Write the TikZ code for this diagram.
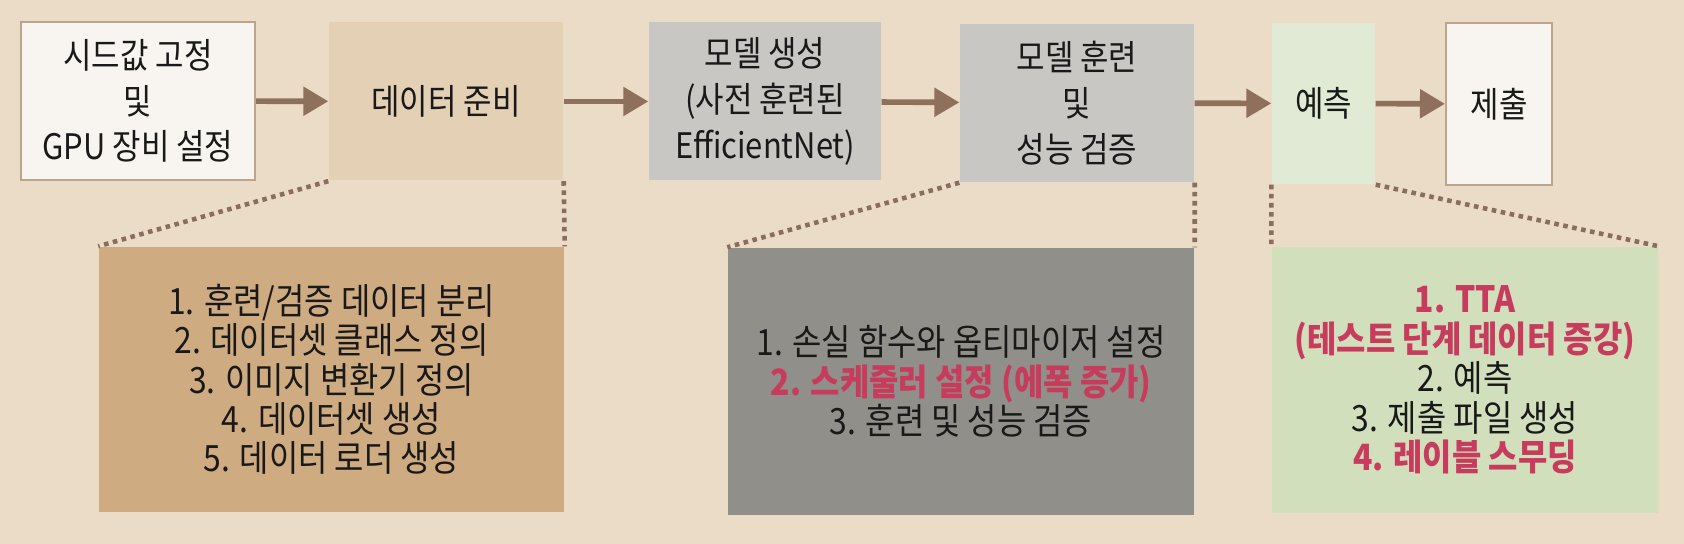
\documentclass[tikz,border=0pt]{standalone}
\usepackage{fontspec}
\newfontfamily\kfont{Noto Sans CJK KR}[FakeStretch=0.88]
\usetikzlibrary{arrows.meta}
\definecolor{paper}{HTML}{EADCC7}
\definecolor{cardwhite}{HTML}{F8F5F0}
\definecolor{cardedge}{HTML}{BBA58F}
\definecolor{sand}{HTML}{E3D0B5}
\definecolor{ash}{HTML}{C9C7C4}
\definecolor{mint}{HTML}{E1EAD5}
\definecolor{tan}{HTML}{CFAB82}
\definecolor{slate}{HTML}{918F8A}
\definecolor{sage}{HTML}{D1DFBC}
\definecolor{arrowbrown}{HTML}{8E705D}
\definecolor{dotbrown}{HTML}{8B6D60}
\definecolor{accent}{HTML}{C73B5C}
\begin{document}
\begin{tikzpicture}[
    stage/.style={minimum width=2.34cm, minimum height=1.58cm, inner sep=0pt,
      align=center, text=black!90, font=\kfont\fontsize{10}{13}\selectfont},
    note/.style={inner sep=0pt, align=center, text=black!90,
      font=\kfont\fontsize{10.3}{11.2}\selectfont},
    flow/.style={draw=arrowbrown, line width=1.6pt,
      -{Triangle[length=0.25cm, width=0.28cm]}},
    link/.style={draw=dotbrown, line width=1.3pt, dash pattern=on 1.3pt off 1.3pt}
  ]
    \fill[paper] (0,0) rectangle (16.84,5.44);
    % upper row of stages
    \node[stage, fill=cardwhite, draw=cardedge, line width=0.6pt] (seed) at (1.38,4.43)
      {시드값 고정\\및\\GPU 장비 설정};
    \node[stage, fill=sand] (data) at (4.46,4.425) {데이터 준비};
    \node[stage, fill=ash, minimum width=2.32cm] (model) at (7.65,4.425)
      {모델 생성\\(사전 훈련된\\EfficientNet)};
    \node[stage, fill=ash] (train) at (10.77,4.41) {모델 훈련\\및\\성능 검증};
    \node[stage, fill=mint, minimum width=1.03cm, minimum height=1.61cm] (pred)
      at (13.235,4.405) {예측};
    \node[stage, fill=cardwhite, draw=cardedge, line width=0.6pt,
      minimum width=1.06cm, minimum height=1.62cm] (submit) at (14.99,4.40) {제출};
    \draw[flow] (seed) -- (data);
    \draw[flow] (data) -- (model);
    \draw[flow] (model) -- (train);
    \draw[flow] (train) -- (pred);
    \draw[flow] (pred) -- (submit);
    % detail cards
    \node[note, fill=tan, minimum width=4.65cm, minimum height=2.65cm] (dataNote)
      at (3.315,1.645)
      {1. 훈련/검증 데이터 분리\\2. 데이터셋 클래스 정의\\3. 이미지 변환기 정의\\
       4. 데이터셋 생성\\5. 데이터 로더 생성};
    \node[note, fill=slate, minimum width=4.66cm, minimum height=2.67cm] (trainNote)
      at (9.61,1.625)
      {1. 손실 함수와 옵티마이저 설정\\
       {\bfseries\color{accent}2. 스케줄러 설정 (에폭 증가)}\\3. 훈련 및 성능 검증};
    \node[note, fill=sage, minimum width=3.86cm, minimum height=2.66cm] (predNote)
      at (14.65,1.64)
      {{\bfseries\color{accent}1. TTA}\\{\bfseries\color{accent}(테스트 단계 데이터 증강)}\\
       2. 예측\\3. 제출 파일 생성\\{\bfseries\color{accent}4. 레이블 스무딩}};
    \draw[link] (data.south west) -- (dataNote.north west);
    \draw[link] (data.south east) -- (dataNote.north east);
    \draw[link] (train.south west) -- (trainNote.north west);
    \draw[link] (train.south east) -- (trainNote.north east);
    \draw[link] (pred.south west) -- (predNote.north west);
    \draw[link] (pred.south east) -- (predNote.north east);
  \end{tikzpicture}
\end{document}
